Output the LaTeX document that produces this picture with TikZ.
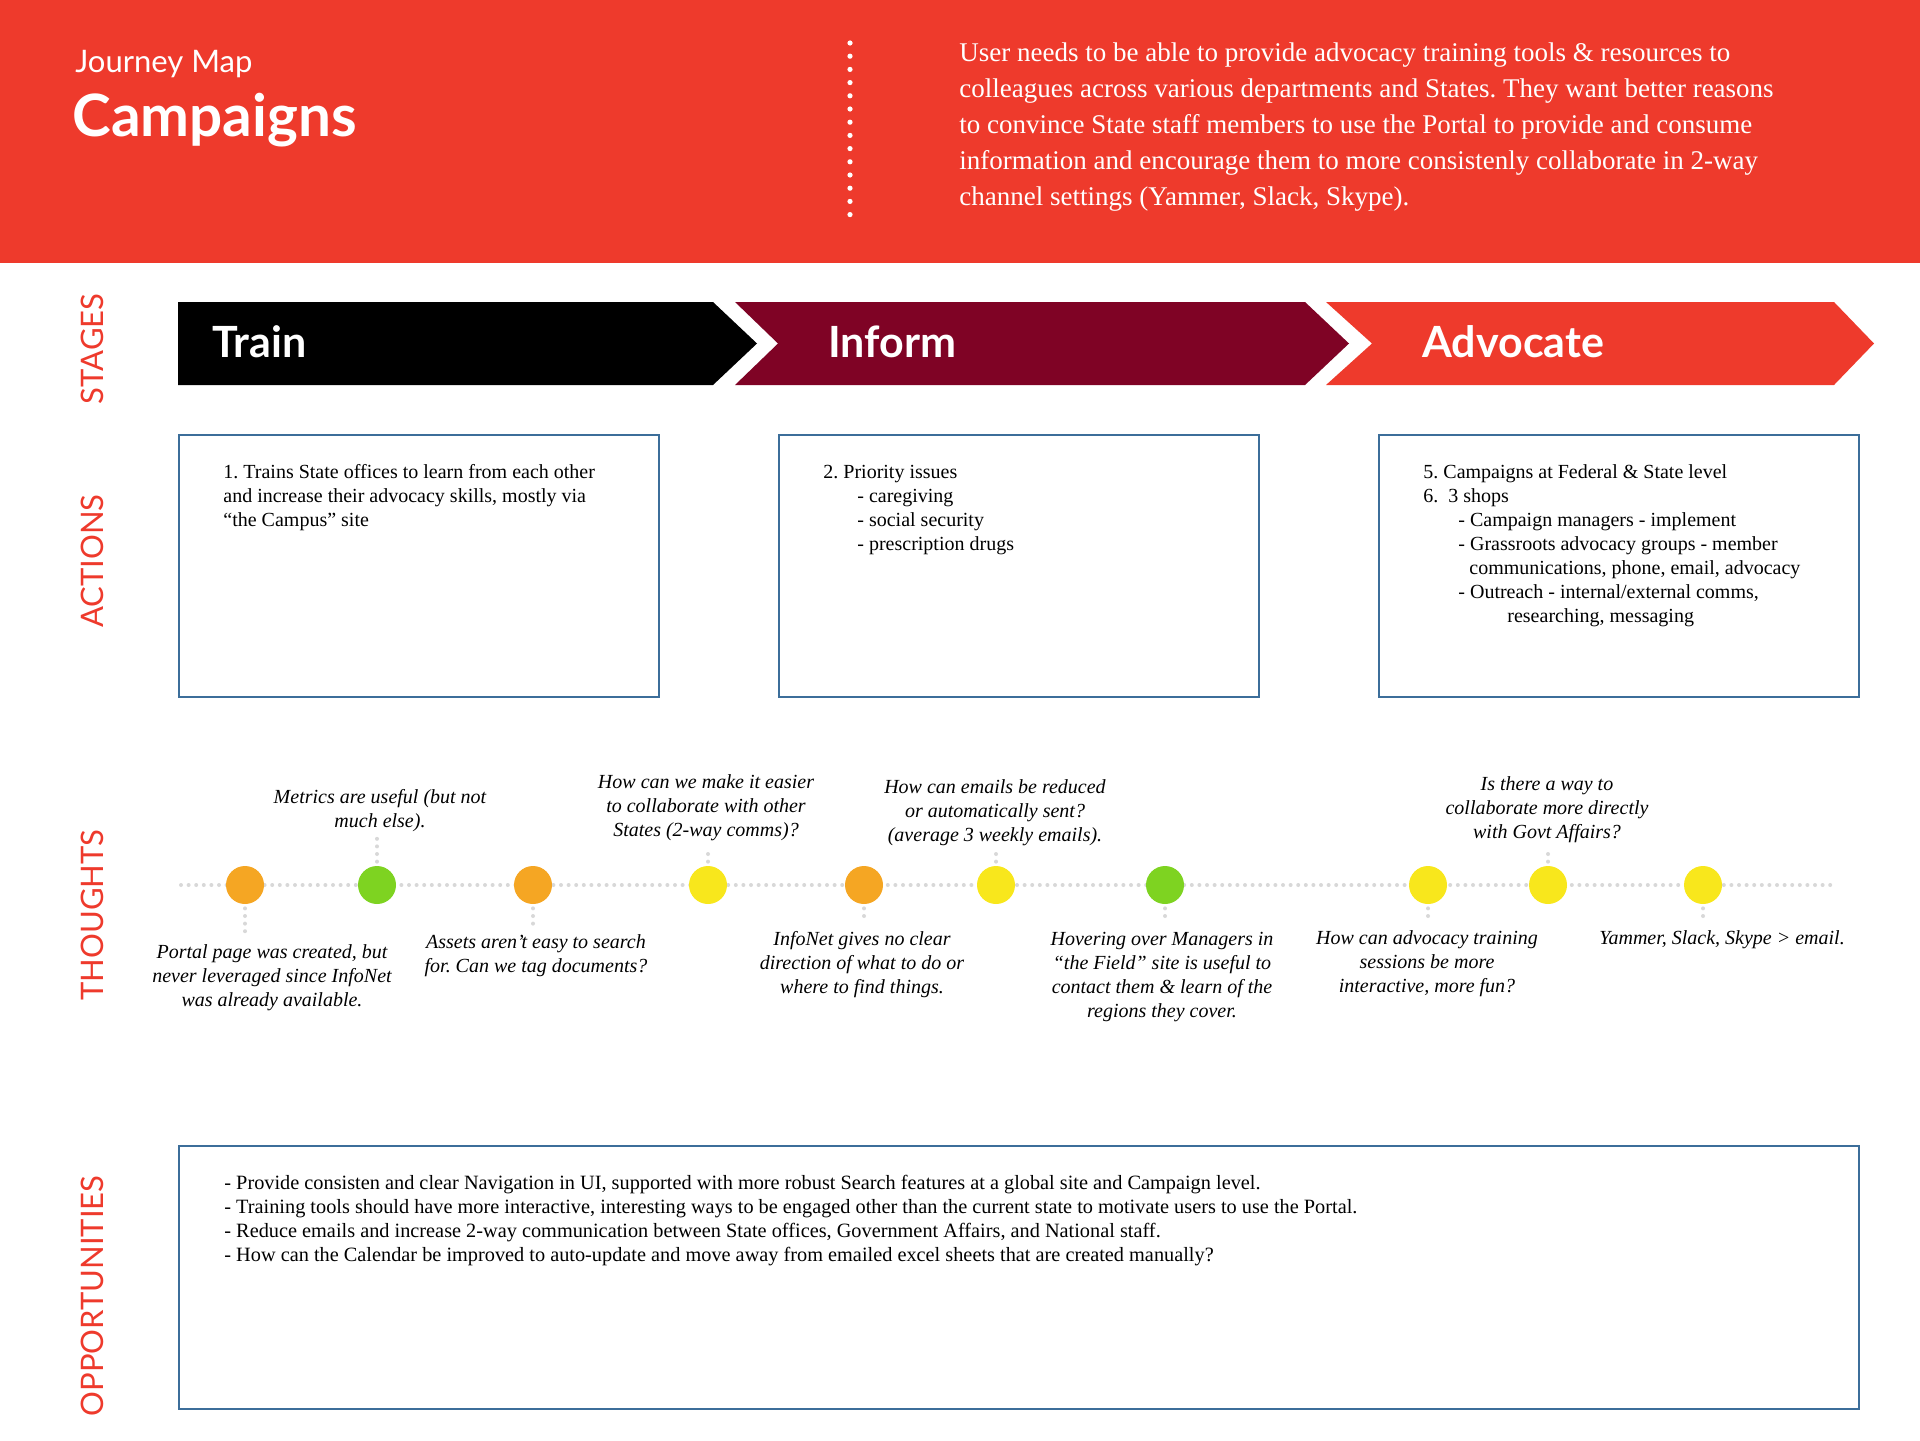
\documentclass[tikz,border=0pt]{standalone}
\usepackage{fontspec}
\setmainfont{Liberation Serif}
\newfontfamily\lato{Lato}
\usepackage{tikz}
\usetikzlibrary{calc}
\definecolor{mapred}{HTML}{EE3A2C}
\definecolor{informred}{HTML}{7F0325}
\definecolor{boxblue}{HTML}{3C6E9A}
\definecolor{dotgray}{HTML}{D8D8D8}
\definecolor{moodorange}{HTML}{F5A623}
\definecolor{moodgreen}{HTML}{7ED321}
\definecolor{moodyellow}{HTML}{F8E71C}
\frenchspacing

\tikzset{
  rowlabel/.style={rotate=90, inner sep=0pt, text=mapred, font=\lato\fontsize{15.5}{18}\selectfont},
  stagelabel/.style={anchor=base west, inner sep=0pt, text=white, font=\lato\bfseries\fontsize{21.5}{24}\selectfont},
  actionbox/.style={draw=boxblue, line width=1pt, anchor=north west, inner sep=0pt, minimum width=240pt, minimum height=131pt},
  boxtext/.style={anchor=base west, align=left, inner sep=0pt, font=\fontsize{10}{12}\selectfont},
  mood/.style={circle, inner sep=0pt, minimum size=19pt},
  thought/.style={anchor=base, align=center, inner sep=0pt, font=\itshape\fontsize{10}{12}\selectfont},
  dotline/.style={dotgray, line width=2pt, line cap=round, dash pattern=on 0pt off 3.8pt}
}

\begin{document}
\begin{tikzpicture}[x=0.5pt,y=-0.5pt]
  \useasboundingbox (0,0) rectangle (1920,1440);
  \fill[mapred] (0,0) rectangle (1920,263);
  \node[anchor=base west, inner sep=0pt, text=white, font=\lato\fontsize{15.5}{18}\selectfont] (kicker) at (75,72) {Journey Map};
  \node[anchor=base west, inner sep=0pt, text=white, font=\lato\bfseries\fontsize{29.2}{33}\selectfont] (title) at (72,136) {Campaigns};
  \draw[white, line width=2.6pt, line cap=round, dash pattern=on 0pt off 6.6pt] (850,43) -- (850,217);
  \node[anchor=base west, inner sep=0pt, align=left, text=white, font=\fontsize{13.5}{17.9}\selectfont] (brief) at (959,205)
    {User needs to be able to provide advocacy training tools \& resources to\\
     colleagues across various departments and States. They want better reasons\\
     to convince State staff members to use the Portal to provide and consume\\
     information and encourage them to more consistenly collaborate in 2-way\\
     channel settings (Yammer, Slack, Skype).};

  \node[rowlabel] (stages) at (92,349) {STAGES};
  \node[rowlabel] (actions) at (92,561) {ACTIONS};
  \node[rowlabel] (thoughts) at (92,915) {THOUGHTS};
  \node[rowlabel] (opportunities) at (92,1296) {OPPORTUNITIES};

  \fill[black] (178,302) -- (713,302) -- (757,343.5) -- (713,385) -- (178,385) -- cycle;
  \fill[informred] (735,302) -- (1305,302) -- (1349,343.5) -- (1305,385) -- (735,385) -- (778,343.5) -- cycle;
  \fill[mapred] (1326,302) -- (1834,302) -- (1874,343.5) -- (1834,385) -- (1326,385) -- (1372,343.5) -- cycle;
  \node[stagelabel] (train) at (212,357) {Train};
  \node[stagelabel] (inform) at (828,357) {Inform};
  \node[stagelabel] (advocate) at (1422,357) {Advocate};

  \node[actionbox] (act1) at (178,434) {};
  \node[actionbox] (act2) at (778,434) {};
  \node[actionbox] (act3) at (1378,434) {};
  \node[boxtext] (act1text) at ($(act1.north west)+(45,92)$)
    {1. Trains State offices to learn from each other\\
     and increase their advocacy skills, mostly via\\
     ``the Campus'' site};
  \node[boxtext] (act2text) at ($(act2.north west)+(45,116)$)
    {2. Priority issues\\
     \hspace*{17pt}- caregiving\\
     \hspace*{17pt}- social security\\
     \hspace*{17pt}- prescription drugs};
  \node[boxtext] (act3text) at ($(act3.north west)+(45,188)$)
    {5. Campaigns at Federal \& State level\\
     6.\ \ 3 shops\\
     \hspace*{17.5pt}- Campaign managers - implement\\
     \hspace*{17.5pt}- Grassroots advocacy groups - member\\
     \hspace*{23pt}communications, phone, email, advocacy\\
     \hspace*{17.5pt}- Outreach - internal/external comms,\\
     \hspace*{42pt}researching, messaging};

  \coordinate (tlstart) at (181,885);
  \coordinate (tlend) at (1834,885);
  \draw[dotline] (tlstart) -- (tlend);
  \foreach \n/\x/\c in {1/245/moodorange, 2/377/moodgreen, 3/533/moodorange, 4/708/moodyellow,
                        5/864/moodorange, 6/996/moodyellow, 7/1165/moodgreen, 8/1428/moodyellow,
                        9/1548/moodyellow, 10/1703/moodyellow}
    \node[mood, fill=\c] (th\n) at (\x,885) {};

  \node[thought] (tx1) at (272,1006) {Portal page was created, but\\never leveraged since InfoNet\\was already available.};
  \node[thought] (tx2) at (380,827) {Metrics are useful (but not\\much else).};
  \node[thought] (tx3) at (536,972) {Assets aren't easy to search\\for. Can we tag documents?};
  \node[thought] (tx4) at (706,836) {How can we make it easier\\to collaborate with other\\States (2-way comms)?};
  \node[thought] (tx5) at (862,993) {InfoNet gives no clear\\direction of what to do or\\where to find things.};
  \node[thought] (tx6) at (995,841) {How can emails be reduced\\or automatically sent?\\(average 3 weekly emails).};
  \node[thought] (tx7) at (1162,1017) {Hovering over Managers in\\``the Field'' site is useful to\\contact them \& learn of the\\regions they cover.};
  \node[thought] (tx8) at (1427,992) {How can advocacy training\\sessions be more\\interactive, more fun?};
  \node[thought] (tx9) at (1547,838) {Is there a way to\\collaborate more directly\\with Govt Affairs?};
  \node[thought] (tx10) at (1722,944) {Yammer, Slack, Skype > email.};
  \foreach \n in {2,4,6,9}
    \draw[dotline, shorten <=2pt, shorten >=3pt] (th\n.north) -- (th\n.north |- tx\n.south);
  \foreach \n in {1,3,5,7,8,10}
    \draw[dotline, shorten <=2pt, shorten >=5pt] (th\n.south) -- (th\n.south |- tx\n.north);

  \node[actionbox, minimum width=840pt, minimum height=131.5pt] (opps) at (178,1145) {};
  \node[boxtext, font=\fontsize{10.15}{12}\selectfont] (oppstext) at ($(opps.north west)+(46,116)$)
    {- Provide consisten and clear Navigation in UI, supported with more robust Search features at a global site and Campaign level.\\
     - Training tools should have more interactive, interesting ways to be engaged other than the current state to motivate users to use the Portal.\\
     - Reduce emails and increase 2-way communication between State offices, Government Affairs, and National staff.\\
     - How can the Calendar be improved to auto-update and move away from emailed excel sheets that are created manually?};
\end{tikzpicture}
\end{document}
